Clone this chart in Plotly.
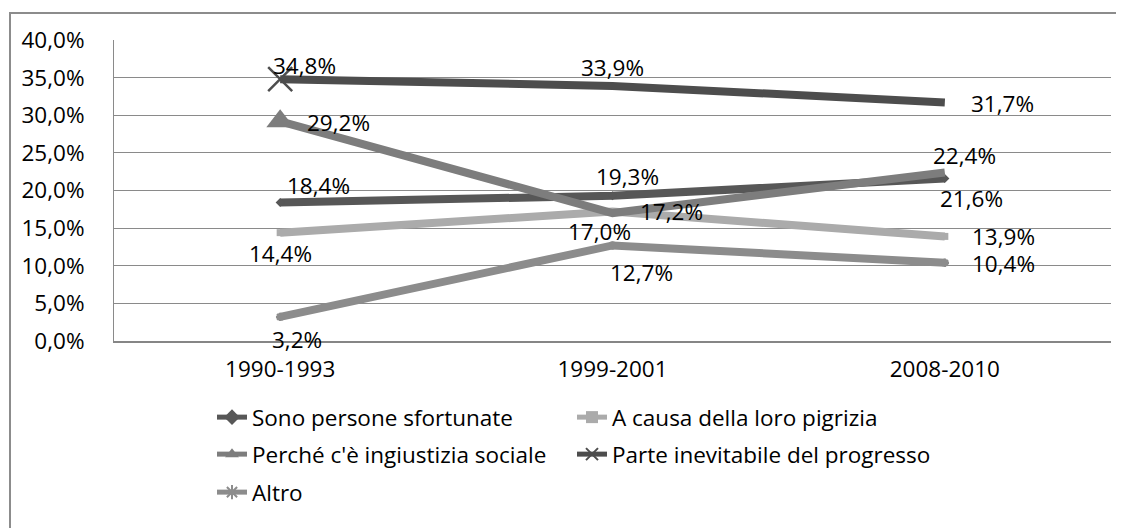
import plotly.graph_objects as go

categories = ["1990-1993", "1999-2001", "2008-2010"]
names = ["Sono persone sfortunate", "A causa della loro pigrizia",
         "Perché c'è ingiustizia sociale", "Parte inevitabile del progresso", "Altro"]
sfortunate = [18.4, 19.3, 21.6]
pigrizia = [14.4, 17.2, 13.9]
ingiustizia = [29.2, 17.0, 22.4]
progresso = [34.8, 33.9, 31.7]
altro = [3.2, 12.7, 10.4]
y_ticks = [0, 5, 10, 15, 20, 25, 30, 35, 40]
y_ticktext = [f"{v:.1f}%".replace(".", ",") for v in y_ticks]

series = [sfortunate, pigrizia, ingiustizia, progresso, altro]
colors = ["#575757", "#ababab", "#7d7d7d", "#4d4d4d", "#8c8c8c"]
symbols = ["diamond", "square", "triangle-up", "x-thin", "asterisk"]
msizes = [[7, 7, 7], [7, 7, 7], [24, 0, 0], [24, 0, 0], [7, 7, 7]]
legends = ["legend", "legend", "legend2", "legend2", "legend3"]

# label offsets (px) per series per point
offsets = [
    [(38, -17), (15, -19), (27, 20)],
    [(0, 21), (59, 0), (59, 0)],
    [(58, 1), (-13, 18), (20, -17)],
    [(24, -14), (0, -18), (58, 1)],
    [(17, 23), (29, 27), (59, 1)],
]

FONT = "Open Sans"
FS = 22.5
fig = go.Figure()
for vals, name, col, sym, ms, lg in zip(series, names, colors, symbols, msizes, legends):
    fig.add_trace(go.Scatter(
        x=categories, y=vals, name=name, mode="lines+markers",
        line=dict(color=col, width=8),
        marker=dict(symbol=sym, size=ms, color=col, opacity=1,
                    line=dict(color=col, width=2.5 if sym in ("x-thin", "asterisk") else 0)),
        legend=lg, cliponaxis=False,
    ))

annotations = []
for vals, offs in zip(series, offsets):
    for c, v, (dx, dy) in zip(categories, vals, offs):
        annotations.append(dict(
            x=c, y=v, xref="x", yref="y", text=f"{v:.1f}%".replace(".", ","),
            showarrow=False, xshift=dx, yshift=-dy,
            font=dict(family=FONT, size=FS, color="#000000")))

# the page body has an 8px margin: compensate so that on-screen pixels match
OFF = 8
W, H = 1124 - OFF, 528 - OFF
L, R, T, B = 114 - OFF, 13, 40 - OFF, 187
pw, ph = W - L - R, H - T - B

def px2paper_x(px):
    return (px - OFF - L) / pw

def px2paper_y(py):
    return (H - B - (py - OFF)) / ph

leg_common = dict(orientation="h", xanchor="left", yanchor="top",
                  entrywidth=315, entrywidthmode="pixels", font=dict(family=FONT, size=FS),
                  itemsizing="constant", bgcolor="rgba(0,0,0,0)", borderwidth=0)

fig.update_layout(
    width=W, height=H,
    margin=dict(l=L, r=R, t=T, b=B, pad=0, autoexpand=False),
    paper_bgcolor="white", plot_bgcolor="white",
    separators=",.",
    font=dict(family=FONT, size=FS, color="#000000"),
    xaxis=dict(type="category", range=[-0.5, 2.5], showgrid=False, automargin=False,
               showline=True, linecolor="#868686", linewidth=2,
               ticks="", tickfont=dict(family=FONT, size=FS), ticklabelstandoff=7),
    yaxis=dict(range=[0, 40], tickvals=y_ticks, ticktext=y_ticktext, automargin=False,
               showgrid=True, gridcolor="#8a8a8a", gridwidth=1,
               showline=True, linecolor="#8a8a8a", linewidth=1,
               zeroline=False, ticks="", tickfont=dict(family=FONT, size=FS),
               ticklabelstandoff=24),
    showlegend=True,
    legend=dict(x=px2paper_x(212), y=px2paper_y(396), **leg_common),
    legend2=dict(x=px2paper_x(212), y=px2paper_y(433), **leg_common),
    legend3=dict(x=px2paper_x(212), y=px2paper_y(471), **leg_common),
    annotations=annotations,
    shapes=[dict(type="rect", xref="paper", yref="paper",
                 x0=px2paper_x(10), x1=px2paper_x(1140),
                 y0=px2paper_y(545), y1=px2paper_y(13),
                 line=dict(color="#8c8c8c", width=2), fillcolor="rgba(0,0,0,0)", layer="below")],
)

fig.write_html("out.html")
